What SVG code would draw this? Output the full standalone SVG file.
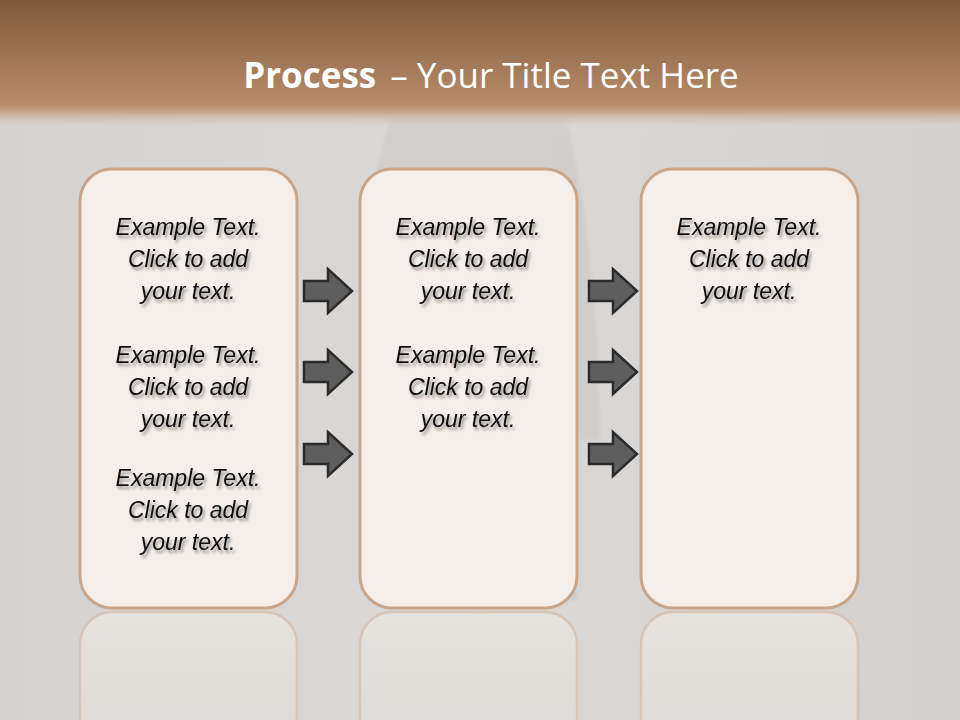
<svg xmlns="http://www.w3.org/2000/svg" width="960" height="720" viewBox="0 0 960 720">
<defs>
<linearGradient id="bg" x1="0" y1="0" x2="1" y2="0">
<stop offset="0" stop-color="#d5d3d1"/><stop offset="0.5" stop-color="#dbd9d7"/><stop offset="1" stop-color="#d3d1cf"/>
</linearGradient>
<linearGradient id="band" x1="0" y1="0" x2="0" y2="1">
<stop offset="0" stop-color="#7f5a3c"/><stop offset="0.8" stop-color="#b88c6a"/><stop offset="0.87" stop-color="#c8ab94"/><stop offset="1" stop-color="#dddbd9" stop-opacity="0"/>
</linearGradient>
<linearGradient id="refl" x1="0" y1="0" x2="0" y2="1">
<stop offset="0" stop-color="#e6e2de"/><stop offset="1" stop-color="#dcd9d6"/>
</linearGradient>
<filter id="ts" x="-10%" y="-30%" width="130%" height="180%">
<feDropShadow dx="2" dy="3" stdDeviation="1.8" flood-color="#000" flood-opacity="0.4"/>
</filter>
<filter id="soft"><feGaussianBlur stdDeviation="1.5"/></filter>
<path id="arrow" d="M0,-10 H24 V-22 L48,0 L24,22 V10 H0 Z"/>
</defs>
<style>
.box{fill:#f5eee9;stroke:#c9a68a;stroke-width:3}
.rbox{fill:url(#refl);stroke:#d6c4b6;stroke-width:2.5}
.t{font-family:"Liberation Sans",Arial,sans-serif;font-style:italic;font-size:23px;fill:#111;text-anchor:middle;filter:url(#ts)}
.arr{fill:#5e5e5e;stroke:#2b2b2b;stroke-width:2.5;stroke-linejoin:miter}
.title{font-family:"Open Sans","Liberation Sans",sans-serif;font-size:35px;fill:#fff;text-anchor:middle}
</style>
<rect width="960" height="720" fill="url(#bg)"/>
<path d="M392,112 L374,180 L370,600 L578,600 L578,440 L600,440 C600,330 590,220 565,112 Z" fill="#cecbc9" opacity="0.75" filter="url(#soft)"/>
<rect width="960" height="130" fill="url(#band)"/>
<text class="title" x="491" y="88"><tspan font-weight="bold">Process</tspan><tspan dx="14">– Your Title Text Here</tspan></text>

<g id="reflections">
<rect class="rbox" x="80" y="612" width="217" height="160" rx="32"/>
<rect class="rbox" x="360" y="612" width="217" height="160" rx="32"/>
<rect class="rbox" x="641" y="612" width="217" height="160" rx="32"/>
</g>

<g id="box1">
<rect class="box" x="80" y="169" width="217" height="439" rx="32"/>
<text class="t" x="188" y="235">Example Text.</text>
<text class="t" x="188" y="267">Click  to add</text>
<text class="t" x="188" y="299">your text.</text>
<text class="t" x="188" y="363">Example Text.</text>
<text class="t" x="188" y="395">Click  to add</text>
<text class="t" x="188" y="427">your text.</text>
<text class="t" x="188" y="486">Example Text.</text>
<text class="t" x="188" y="518">Click  to add</text>
<text class="t" x="188" y="550">your text.</text>
</g>
<g id="box2">
<rect class="box" x="360" y="169" width="217" height="439" rx="32"/>
<text class="t" x="468" y="235">Example Text.</text>
<text class="t" x="468" y="267">Click  to add</text>
<text class="t" x="468" y="299">your text.</text>
<text class="t" x="468" y="363">Example Text.</text>
<text class="t" x="468" y="395">Click  to add</text>
<text class="t" x="468" y="427">your text.</text>
</g>
<g id="box3">
<rect class="box" x="641" y="169" width="217" height="439" rx="32"/>
<text class="t" x="749" y="235">Example Text.</text>
<text class="t" x="749" y="267">Click  to add</text>
<text class="t" x="749" y="299">your text.</text>
</g>
<g id="connectors">
<use href="#arrow" class="arr" x="304" y="291"/>
<use href="#arrow" class="arr" x="304" y="372"/>
<use href="#arrow" class="arr" x="304" y="454"/>
<use href="#arrow" class="arr" x="589" y="291"/>
<use href="#arrow" class="arr" x="589" y="372"/>
<use href="#arrow" class="arr" x="589" y="454"/>
</g>
</svg>
